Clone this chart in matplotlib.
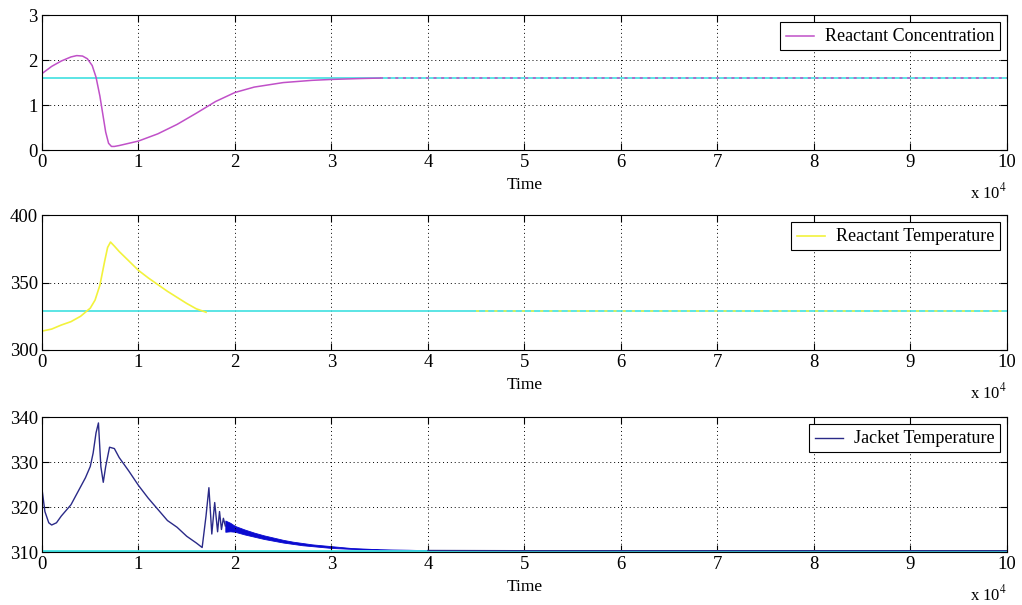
import matplotlib
matplotlib.use('Agg')
import matplotlib.pyplot as plt
import numpy as np

plt.rcParams['font.family'] = ['Liberation Serif', 'DejaVu Serif']
plt.rcParams['mathtext.fontset'] = 'stix'

# time in seconds
t_conc = [0, 1000, 2000, 3000, 3600, 4200, 4700, 5200, 5600, 6000, 6300, 6600,
          6900, 7200, 7500, 8000, 9000, 10000, 12000, 14000, 16000, 18000,
          20000, 22000, 25000, 28000, 30000, 33000, 35000]
conc = [1.70, 1.86, 1.98, 2.07, 2.10, 2.09, 2.03, 1.88, 1.62, 1.20, 0.80, 0.40,
        0.15, 0.08, 0.08, 0.10, 0.15, 0.20, 0.36, 0.57, 0.82, 1.08,
        1.28, 1.40, 1.50, 1.55, 1.57, 1.59, 1.60]
conc_sp = 1.6

t_temp = [0, 1000, 2000, 3000, 4000, 5000, 5500, 6000, 6500, 6800, 7100, 7500,
          8000, 9000, 10000, 11000, 12000, 13000, 14000, 15000, 16000, 17000]
temp = [314, 315.5, 318.5, 321, 325, 331, 337, 348, 366, 376, 380, 377,
        373, 366, 359, 353.5, 348.5, 343.5, 339, 334.5, 330.5, 328]
temp_sp = 329

t_jack = [0, 300, 700, 1000, 1500, 2000, 3000, 4000, 4500, 5000, 5300, 5600, 5850,
          6100, 6350, 6600, 7000, 7500, 8000, 9000, 10000, 11000, 12000,
          13000, 14000, 15000, 16000, 16600, 17000, 17300, 17600, 17900,
          18200, 18400, 18600, 18800, 19000]
jack = [324, 319, 316.5, 316, 316.5, 318, 320.5, 324.5, 326.5, 329, 332, 336.5, 338.7,
        329, 325.5, 329, 333.3, 333, 331, 328, 324.8, 322, 319.5,
        317, 315.5, 313.5, 312, 311, 318, 324.3, 314, 321, 314.5, 319,
        315, 317.5, 315.8]
# dense oscillation band after 1.9e4 s
t_band = [19000, 19500, 20000, 21000, 22000, 23000, 24000, 25000, 26000, 27000,
          28000, 29000, 30000, 31000, 32000, 33000, 35000, 38000, 40000]
band_hi = [317, 316.5, 315.8, 315.0, 314.3, 313.7, 313.2, 312.7, 312.3, 312.0,
           311.7, 311.5, 311.3, 311.1, 310.9, 310.8, 310.6, 310.5, 310.4]
band_lo = [314.5, 314.6, 314.5, 313.9, 313.4, 312.9, 312.5, 312.1, 311.8, 311.5,
           311.3, 311.1, 310.9, 310.8, 310.7, 310.6, 310.5, 310.4, 310.35]
t_tail = [40000, 50000, 60000, 70000, 80000, 90000, 100000]
jack_tail = [310.35, 310.3, 310.3, 310.3, 310.3, 310.3, 310.3]
jack_sp = 310.2

xticks = np.arange(0, 100001, 10000)
xlabels = [str(i) for i in range(11)]

fig = plt.figure(figsize=(10.22, 6.05), dpi=100)
ax1 = fig.add_axes([0.0411, 0.752, 0.944, 0.223])
ax2 = fig.add_axes([0.0411, 0.4215, 0.944, 0.223])
ax3 = fig.add_axes([0.0411, 0.0876, 0.944, 0.223])

cyan = '#40e0e0'
pink = '#c050c8'
yel = '#f2f23c'
navy = '#2a2a88'
blue = '#0a0ad0'

# concentration
ax1.plot([0, 100000], [conc_sp, conc_sp], color=cyan, lw=1.2)
l1, = ax1.plot(t_conc, conc, color=pink, lw=1.1)
ax1.plot([35000, 100000], [conc_sp, conc_sp], color=pink, lw=1.1, ls=(0, (2, 3)))
ax1.set_ylim(0, 3)
ax1.set_yticks([0, 1, 2, 3])
ax1.legend([l1], ['Reactant Concentration'], loc='upper right')

# reactant temperature
ax2.plot([0, 100000], [temp_sp, temp_sp], color=cyan, lw=1.2)
l2, = ax2.plot(t_temp, temp, color=yel, lw=1.2)
ax2.plot([45000, 100000], [temp_sp, temp_sp], color=yel, lw=1.1, ls=(0, (2, 4)))
ax2.set_ylim(300, 400)
ax2.set_yticks([300, 350, 400])
ax2.legend([l2], ['Reactant Temperature'], loc='upper right')

# jacket temperature
ax3.plot([0, 100000], [jack_sp, jack_sp], color=cyan, lw=2.0)
l3, = ax3.plot(t_jack, jack, color=navy, lw=1.0)
ax3.fill_between(t_band, band_lo, band_hi, color=blue, lw=0.6)
ax3.plot(t_tail, jack_tail, color=navy, lw=0.9)
ax3.set_ylim(310, 340)
ax3.set_yticks([310, 320, 330, 340])
ax3.legend([l3], ['Jacket Temperature'], loc='upper right')

for ax in (ax1, ax2, ax3):
    ax.set_xlim(0, 100000)
    ax.set_xticks(xticks)
    ax.set_xticklabels(xlabels)
    ax.grid(True, color='black', ls=(0, (1, 3)), lw=0.7)
    ax.tick_params(direction='in', top=True, right=True, labelsize=13.5,
                   length=5, pad=3)
    ax.set_xlabel('Time', fontsize=12.5, labelpad=4)
    for s in ax.spines.values():
        s.set_linewidth(0.8)
    leg = ax.get_legend()
    leg.get_frame().set_edgecolor('black')
    leg.get_frame().set_linewidth(0.8)
    leg.get_frame().set_boxstyle('square', pad=0)
    leg.get_frame().set_alpha(1)
    leg.handlelength = 2.6
    for txt in leg.get_texts():
        txt.set_fontsize(13)
    ax.text(1.0, -0.24, r'x 10$^4$', transform=ax.transAxes, ha='right',
            va='top', fontsize=12)

fig.savefig('out.png', dpi=100)
